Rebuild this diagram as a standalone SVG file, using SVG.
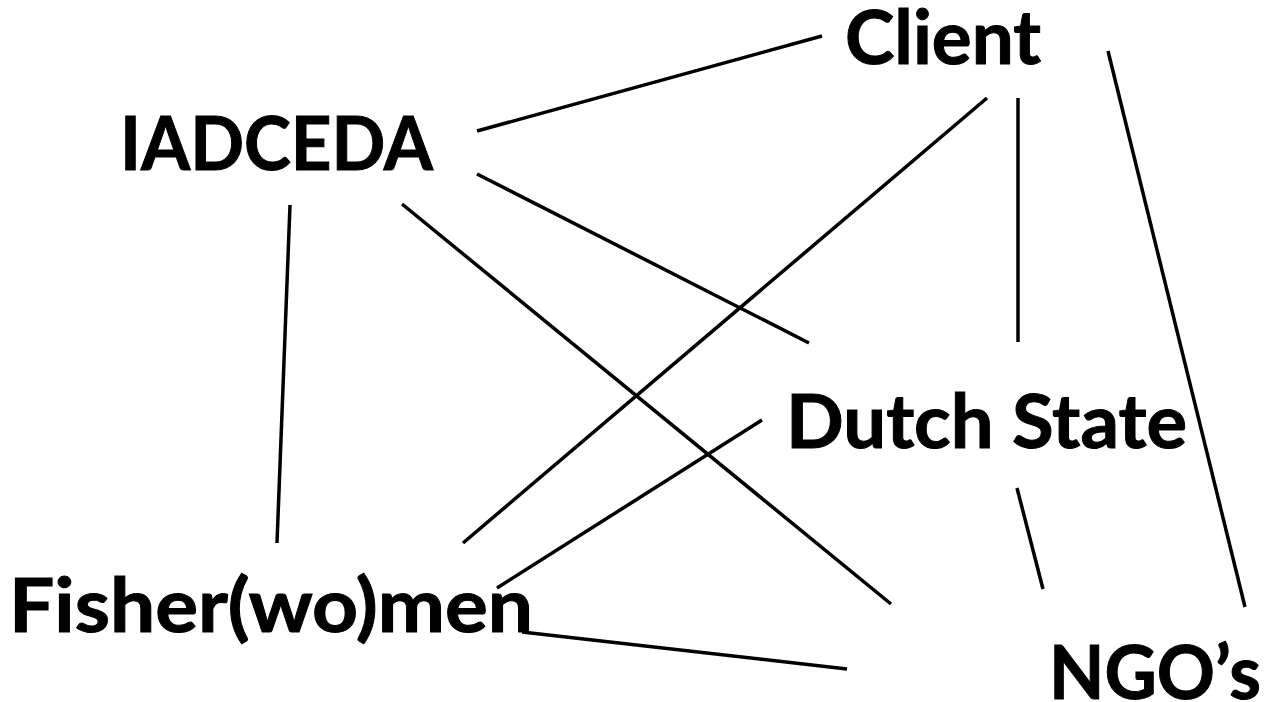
<svg xmlns="http://www.w3.org/2000/svg" width="1264" height="702" viewBox="0 0 1264 702">
<style>
.lbl{font-family:"Lato","Open Sans","Liberation Sans",sans-serif;font-weight:bold;font-size:74px;fill:#000;stroke:#000;stroke-width:1}
.edge{stroke:#000;stroke-width:3.5;fill:none;stroke-linecap:butt}
</style>
<rect width="1264" height="702" fill="#fff"/>
<g id="connectors">
<line class="edge" x1="477" y1="131" x2="822" y2="36"/>
<line class="edge" x1="477" y1="174" x2="809" y2="343"/>
<line class="edge" x1="402" y1="204" x2="891" y2="604"/>
<line class="edge" x1="290" y1="205" x2="277" y2="543"/>
<line class="edge" x1="987" y1="98" x2="463" y2="543"/>
<line class="edge" x1="1018" y1="98" x2="1018" y2="342"/>
<line class="edge" x1="1108" y1="51" x2="1245" y2="607"/>
<line class="edge" x1="762" y1="420" x2="497" y2="588"/>
<line class="edge" x1="1017" y1="488" x2="1043" y2="589"/>
<line class="edge" x1="522" y1="632" x2="847" y2="669"/>
</g>
<g id="node-client"><text class="lbl" x="845" y="64" textLength="196" lengthAdjust="spacingAndGlyphs">Client</text></g>
<g id="node-iadceda"><text class="lbl" x="120" y="170" textLength="313" lengthAdjust="spacingAndGlyphs">IADCEDA</text></g>
<g id="node-dutch-state"><text class="lbl" x="786" y="448" textLength="401" lengthAdjust="spacingAndGlyphs">Dutch State</text></g>
<g id="node-fisher"><text class="lbl" x="9" y="632" textLength="524" lengthAdjust="spacingAndGlyphs">Fisher(wo)men</text></g>
<g id="node-ngos"><text class="lbl" x="1049" y="699" textLength="212" lengthAdjust="spacingAndGlyphs">NGO’s</text></g>
</svg>
